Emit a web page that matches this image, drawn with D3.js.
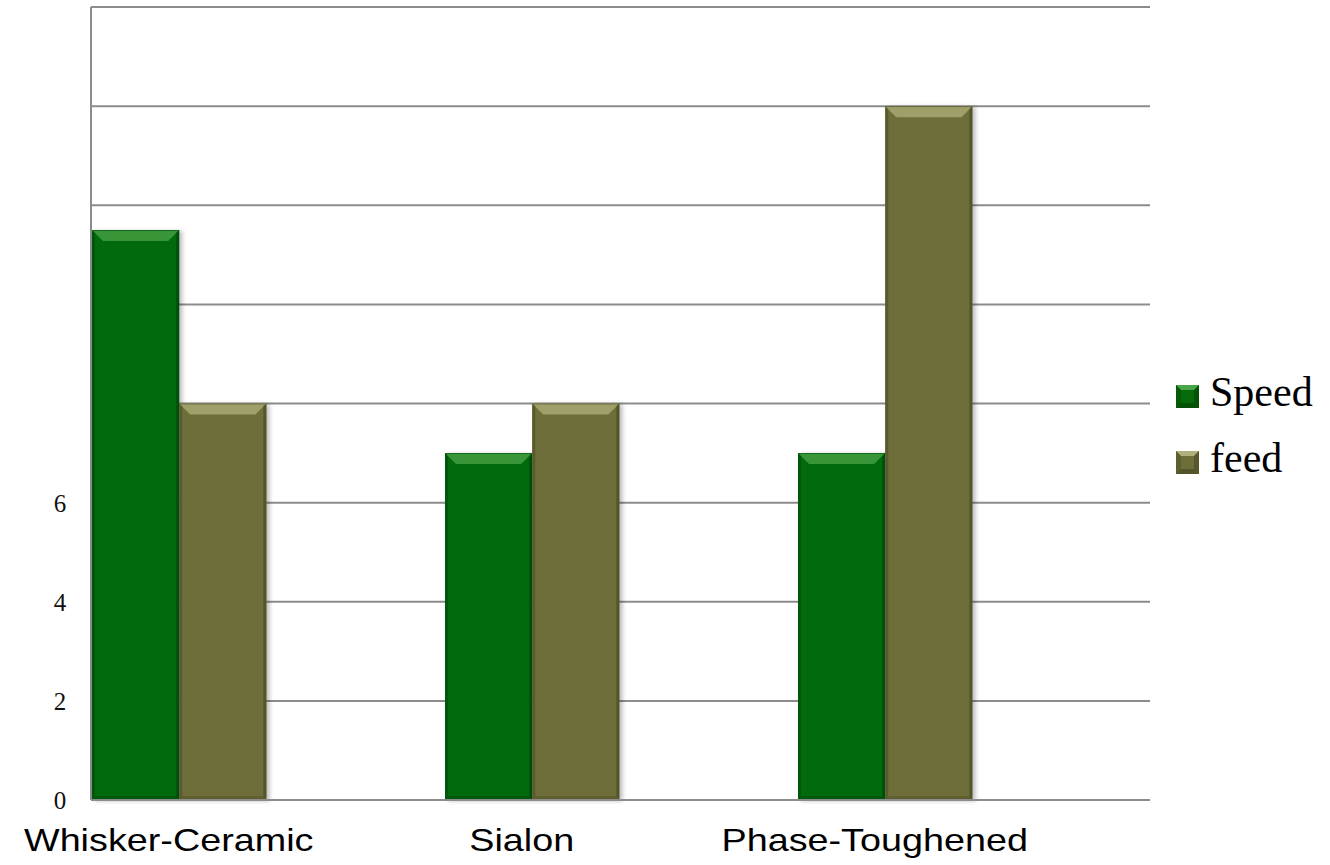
<!DOCTYPE html>
<html>
<head>
<meta charset="utf-8">
<script src="https://cdn.jsdelivr.net/npm/d3@7"></script>
<style>
  body { margin: 0; padding: 0; background: #fff; }
  svg { display: block; }
</style>
</head>
<body>
<div id="chart"></div>
<script>
// chart data
const categories = ['Whisker-Ceramic', 'Sialon', 'Phase-Toughened'];
const seriesNames = ['Speed', 'feed'];
const speedValues = [11.5, 7, 7];
const feedValues = [8, 8, 14];
const gridValues = [0, 2, 4, 6, 8, 10, 12, 14, 16];
const tickLabels = [0, 2, 4, 6];

const width = 1330, height = 865;
const margin = { top: 7, right: 180, bottom: 65, left: 91 };
const plotW = width - margin.left - margin.right;
const plotH = height - margin.top - margin.bottom;

const colors = {
  Speed: { base: '#066a0a', light: '#48a648', dark: '#034a06' },
  feed: { base: '#6e6e3a', light: '#b0b07c', dark: '#4d4d27' }
};

const svg = d3.select('#chart').append('svg').attr('width', width).attr('height', height);
const defs = svg.append('defs');
const shadow = defs.append('filter').attr('id', 'shadow')
  .attr('x', '-10%').attr('y', '-5%').attr('width', '125%').attr('height', '110%');
shadow.append('feDropShadow').attr('dx', 3).attr('dy', 1).attr('stdDeviation', 2)
  .attr('flood-color', '#000').attr('flood-opacity', 0.25);

const g = svg.append('g').attr('transform', `translate(${margin.left},${margin.top})`);

const y = d3.scaleLinear().domain([0, 16]).range([plotH, 0]);
const x0 = d3.scaleBand().domain(categories).range([0, plotW]).padding(0);
const x1 = d3.scaleBand().domain(seriesNames).range([1, 1 + x0.bandwidth() * 0.494]);

// gridlines
g.append('g').selectAll('line').data(gridValues).join('line')
  .attr('x1', 0).attr('x2', plotW)
  .attr('y1', d => y(d)).attr('y2', d => y(d))
  .attr('stroke', '#8c8c8c').attr('stroke-width', 2);

// left axis line
g.append('line').attr('x1', 0).attr('x2', 0).attr('y1', 0).attr('y2', plotH)
  .attr('stroke', '#8c8c8c').attr('stroke-width', 2);

// y tick labels
g.append('g').selectAll('text').data(tickLabels).join('text')
  .attr('x', -31).attr('y', d => y(d) + 9)
  .attr('text-anchor', 'middle')
  .style('font-family', '"Liberation Serif", "DejaVu Serif", serif')
  .style('font-size', '25px').attr('fill', '#111')
  .text(d => d);

// bars
const rows = categories.map((c, i) => ({ cat: c, values: [speedValues[i], feedValues[i]] }));
const groups = g.append('g').selectAll('g').data(rows).join('g')
  .attr('transform', d => `translate(${x0(d.cat)},0)`);

groups.each(function (row) {
  const grp = d3.select(this);
  seriesNames.forEach((s, k) => {
    const v = row.values[k];
    const bx = x1(s), bw = x1.bandwidth();
    const by = y(v), bh = y(0) - y(v);
    const c = colors[s];
    const bar = grp.append('g').attr('filter', 'url(#shadow)');
    bar.append('rect').attr('x', bx).attr('y', by).attr('width', bw).attr('height', bh).attr('fill', c.base);
    const bev = 11;
    // top bevel
    bar.append('polygon')
      .attr('points', [[bx, by], [bx + bw, by], [bx + bw - bev, by + bev], [bx + bev, by + bev]].map(p => p.join(',')).join(' '))
      .attr('fill', c.light).attr('opacity', 0.75);
    // side edges
    bar.append('polygon')
      .attr('points', [[bx, by], [bx + 3, by + 3], [bx + 3, by + bh - 3], [bx, by + bh]].map(p => p.join(',')).join(' '))
      .attr('fill', c.dark).attr('opacity', 0.6);
    bar.append('polygon')
      .attr('points', [[bx + bw, by], [bx + bw - 3, by + 3], [bx + bw - 3, by + bh - 3], [bx + bw, by + bh]].map(p => p.join(',')).join(' '))
      .attr('fill', c.dark).attr('opacity', 0.8);
    // bottom edge
    bar.append('polygon')
      .attr('points', [[bx, by + bh], [bx + bw, by + bh], [bx + bw - 4, by + bh - 4], [bx + 4, by + bh - 4]].map(p => p.join(',')).join(' '))
      .attr('fill', c.dark).attr('opacity', 0.5);
    // thin outline on top
    bar.append('line').attr('x1', bx).attr('x2', bx + bw).attr('y1', by + 0.5).attr('y2', by + 0.5)
      .attr('stroke', c.dark).attr('stroke-width', 1).attr('opacity', 0.6);
  });
});

// baseline
g.append('line').attr('x1', 0).attr('x2', plotW).attr('y1', y(0)).attr('y2', y(0))
  .attr('stroke', '#8c8c8c').attr('stroke-width', 2);

// category labels
g.append('g').selectAll('text').data(categories).join('text')
  .attr('transform', d => `translate(${x0(d) + x1.range()[1] / 2 - 10},${plotH + 51}) scale(1.18,1)`)
  .attr('text-anchor', 'middle')
  .style('font-family', '"Liberation Sans", Arial, sans-serif')
  .style('font-size', '32px').attr('fill', '#000')
  .text(d => d);

// legend
const legend = svg.append('g').attr('transform', 'translate(1176,385)');
const items = legend.selectAll('g').data(seriesNames).join('g')
  .attr('transform', (d, i) => `translate(0,${i * 66})`);
items.each(function (s) {
  const it = d3.select(this);
  const c = colors[s];
  const sz = 23, b = 5;
  it.append('rect').attr('width', sz).attr('height', sz).attr('fill', c.base);
  it.append('polygon').attr('points', `0,0 ${sz},0 ${sz - b},${b} ${b},${b}`).attr('fill', c.light);
  it.append('polygon').attr('points', `0,0 ${b},${b} ${b},${sz - b} 0,${sz}`).attr('fill', c.dark).attr('opacity', 0.5);
  it.append('polygon').attr('points', `${sz},0 ${sz - b},${b} ${sz - b},${sz - b} ${sz},${sz}`).attr('fill', c.dark).attr('opacity', 0.7);
  it.append('polygon').attr('points', `0,${sz} ${sz},${sz} ${sz - b},${sz - b} ${b},${sz - b}`).attr('fill', c.dark).attr('opacity', 0.8);
});
items.append('text')
  .attr('x', 34).attr('y', 21)
  .style('font-family', '"Liberation Serif", "Times New Roman", serif')
  .style('font-size', '42px').attr('fill', '#000')
  .text(d => d);
</script>
</body>
</html>
